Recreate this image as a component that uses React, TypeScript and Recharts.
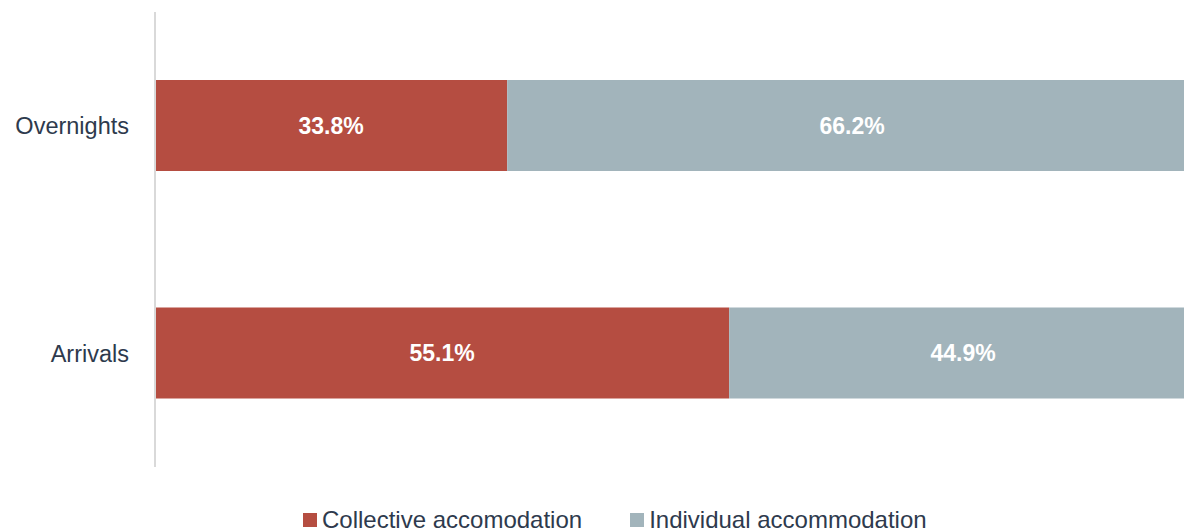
import React from "react";
import { BarChart, Bar, XAxis, YAxis, Legend, LabelList } from "recharts";

const categories = ["Overnights", "Arrivals"];
const collective = [33.8, 55.1];
const individual = [66.2, 44.9];
const seriesNames = ["Collective accomodation", "Individual accommodation"];
const colors = ["#B54D41", "#A2B4BB"];

const data = categories.map((c, i) => ({
  name: c,
  collective: collective[i],
  individual: individual[i],
}));

const fmt = (v: any) => `${Number(v).toFixed(1)}%`;
const FONT = "'Liberation Sans', Arial, sans-serif";

const LegendContent = () => (
  <div
    style={{
      display: "flex",
      justifyContent: "flex-start",
      fontFamily: FONT,
      fontSize: 24,
      color: "#2E3A4D",
      paddingLeft: 303,
      paddingTop: 40,
      height: 64,
      boxSizing: "border-box",
      alignItems: "flex-start",
      lineHeight: "26px",
    }}
  >
    {seriesNames.map((n, i) => (
      <div key={n} style={{ display: "flex", alignItems: "center", marginRight: i === 0 ? 48 : 0 }}>
        <span style={{ width: 14, height: 14, background: colors[i], display: "inline-block", marginRight: 5 }} />
        <span>{n}</span>
      </div>
    ))}
  </div>
);

export default function App() {
  return (
    <div style={{ position: "absolute", left: 0, top: 0, width: 1184, height: 531, overflow: "hidden", background: "#fff" }}>
      <BarChart
        width={1197}
        height={531}
        data={data}
        layout="vertical"
        margin={{ top: 12, right: 0, left: 0, bottom: 0 }}
        barSize={91}
      >
        <XAxis type="number" domain={[0, 100]} hide />
        <YAxis
          type="category"
          dataKey="name"
          width={155}
          axisLine={{ stroke: "#D9D9D9", strokeWidth: 2 }}
          tickLine={false}
          tickSize={0}
          tickMargin={26}
          tick={{ fill: "#2E3A4D", fontSize: 23.5, fontFamily: FONT }}
        />
        <Legend
          verticalAlign="bottom"
          content={<LegendContent />}
          wrapperStyle={{ height: 64, left: 0, width: 1184 }}
        />
        <Bar dataKey="collective" name={seriesNames[0]} stackId="a" fill={colors[0]} isAnimationActive={false}>
          <LabelList
            dataKey="collective"
            position="center"
            formatter={fmt}
            fill="#fff"
            style={{ fontWeight: "bold", fontSize: 23, fontFamily: FONT }}
          />
        </Bar>
        <Bar dataKey="individual" name={seriesNames[1]} stackId="a" fill={colors[1]} isAnimationActive={false}>
          <LabelList
            dataKey="individual"
            position="center"
            formatter={fmt}
            fill="#fff"
            style={{ fontWeight: "bold", fontSize: 23, fontFamily: FONT }}
          />
        </Bar>
      </BarChart>
    </div>
  );
}
